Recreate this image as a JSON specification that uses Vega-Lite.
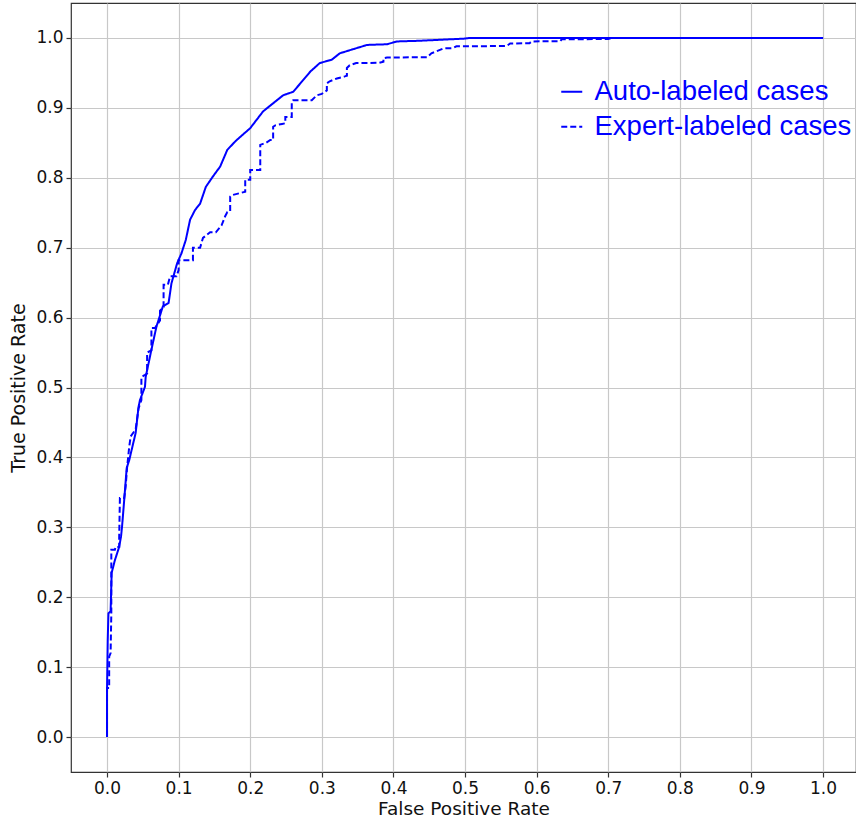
{
  "$schema": "https://vega.github.io/schema/vega-lite/v6.json",
  "width": 785,
  "height": 769,
  "autosize": {"type": "none"},
  "padding": {"left": 71, "top": 3, "right": 0, "bottom": 48},
  "background": "white",
  "config": {
    "view": {"stroke": "#333333", "strokeWidth": 1.2},
    "axis": {
      "domain": false,
      "grid": true,
      "gridColor": "#c8c8c8",
      "gridWidth": 1.2,
      "tickColor": "#333333",
      "tickSize": 5,
      "tickWidth": 1.2,
      "labelColor": "#111111",
      "titleColor": "#111111",
      "titleFontWeight": "normal"
    }
  },
  "data": {
    "values": [
      {"series": "Auto-labeled cases", "fpr": 0, "tpr": 0},
      {"series": "Auto-labeled cases", "fpr": 0, "tpr": 0.067},
      {"series": "Auto-labeled cases", "fpr": 0.001, "tpr": 0.139},
      {"series": "Auto-labeled cases", "fpr": 0.002, "tpr": 0.177},
      {"series": "Auto-labeled cases", "fpr": 0.005, "tpr": 0.18},
      {"series": "Auto-labeled cases", "fpr": 0.0065, "tpr": 0.235},
      {"series": "Auto-labeled cases", "fpr": 0.011, "tpr": 0.253},
      {"series": "Auto-labeled cases", "fpr": 0.017, "tpr": 0.272},
      {"series": "Auto-labeled cases", "fpr": 0.0196, "tpr": 0.287},
      {"series": "Auto-labeled cases", "fpr": 0.021, "tpr": 0.301},
      {"series": "Auto-labeled cases", "fpr": 0.024, "tpr": 0.339},
      {"series": "Auto-labeled cases", "fpr": 0.0275, "tpr": 0.385},
      {"series": "Auto-labeled cases", "fpr": 0.031, "tpr": 0.396},
      {"series": "Auto-labeled cases", "fpr": 0.04, "tpr": 0.435},
      {"series": "Auto-labeled cases", "fpr": 0.044, "tpr": 0.472},
      {"series": "Auto-labeled cases", "fpr": 0.046, "tpr": 0.482},
      {"series": "Auto-labeled cases", "fpr": 0.053, "tpr": 0.501},
      {"series": "Auto-labeled cases", "fpr": 0.054, "tpr": 0.515},
      {"series": "Auto-labeled cases", "fpr": 0.062, "tpr": 0.554},
      {"series": "Auto-labeled cases", "fpr": 0.069, "tpr": 0.587},
      {"series": "Auto-labeled cases", "fpr": 0.078, "tpr": 0.616},
      {"series": "Auto-labeled cases", "fpr": 0.086, "tpr": 0.621},
      {"series": "Auto-labeled cases", "fpr": 0.09, "tpr": 0.649},
      {"series": "Auto-labeled cases", "fpr": 0.098, "tpr": 0.678},
      {"series": "Auto-labeled cases", "fpr": 0.104, "tpr": 0.692},
      {"series": "Auto-labeled cases", "fpr": 0.11, "tpr": 0.711},
      {"series": "Auto-labeled cases", "fpr": 0.116, "tpr": 0.74},
      {"series": "Auto-labeled cases", "fpr": 0.123, "tpr": 0.754},
      {"series": "Auto-labeled cases", "fpr": 0.13, "tpr": 0.763},
      {"series": "Auto-labeled cases", "fpr": 0.138, "tpr": 0.787},
      {"series": "Auto-labeled cases", "fpr": 0.148, "tpr": 0.802},
      {"series": "Auto-labeled cases", "fpr": 0.158, "tpr": 0.816},
      {"series": "Auto-labeled cases", "fpr": 0.168, "tpr": 0.84},
      {"series": "Auto-labeled cases", "fpr": 0.18, "tpr": 0.853},
      {"series": "Auto-labeled cases", "fpr": 0.19, "tpr": 0.862},
      {"series": "Auto-labeled cases", "fpr": 0.2, "tpr": 0.871},
      {"series": "Auto-labeled cases", "fpr": 0.218, "tpr": 0.895},
      {"series": "Auto-labeled cases", "fpr": 0.235, "tpr": 0.909},
      {"series": "Auto-labeled cases", "fpr": 0.246, "tpr": 0.918},
      {"series": "Auto-labeled cases", "fpr": 0.26, "tpr": 0.923},
      {"series": "Auto-labeled cases", "fpr": 0.27, "tpr": 0.935},
      {"series": "Auto-labeled cases", "fpr": 0.284, "tpr": 0.952},
      {"series": "Auto-labeled cases", "fpr": 0.297, "tpr": 0.964},
      {"series": "Auto-labeled cases", "fpr": 0.314, "tpr": 0.969},
      {"series": "Auto-labeled cases", "fpr": 0.325, "tpr": 0.978},
      {"series": "Auto-labeled cases", "fpr": 0.344, "tpr": 0.984},
      {"series": "Auto-labeled cases", "fpr": 0.363, "tpr": 0.99},
      {"series": "Auto-labeled cases", "fpr": 0.391, "tpr": 0.991},
      {"series": "Auto-labeled cases", "fpr": 0.405, "tpr": 0.995},
      {"series": "Auto-labeled cases", "fpr": 0.437, "tpr": 0.996},
      {"series": "Auto-labeled cases", "fpr": 0.498, "tpr": 0.999},
      {"series": "Auto-labeled cases", "fpr": 0.507, "tpr": 1.0},
      {"series": "Auto-labeled cases", "fpr": 1.0, "tpr": 1.0},

      {"series": "Expert-labeled cases", "fpr": 0, "tpr": 0},
      {"series": "Expert-labeled cases", "fpr": 0, "tpr": 0.07},
      {"series": "Expert-labeled cases", "fpr": 0.003, "tpr": 0.07},
      {"series": "Expert-labeled cases", "fpr": 0.003, "tpr": 0.115},
      {"series": "Expert-labeled cases", "fpr": 0.005, "tpr": 0.12},
      {"series": "Expert-labeled cases", "fpr": 0.006, "tpr": 0.177},
      {"series": "Expert-labeled cases", "fpr": 0.006, "tpr": 0.268},
      {"series": "Expert-labeled cases", "fpr": 0.011, "tpr": 0.268},
      {"series": "Expert-labeled cases", "fpr": 0.012, "tpr": 0.272},
      {"series": "Expert-labeled cases", "fpr": 0.017, "tpr": 0.272},
      {"series": "Expert-labeled cases", "fpr": 0.017, "tpr": 0.286},
      {"series": "Expert-labeled cases", "fpr": 0.018, "tpr": 0.342},
      {"series": "Expert-labeled cases", "fpr": 0.024, "tpr": 0.342},
      {"series": "Expert-labeled cases", "fpr": 0.026, "tpr": 0.358},
      {"series": "Expert-labeled cases", "fpr": 0.028, "tpr": 0.385},
      {"series": "Expert-labeled cases", "fpr": 0.031, "tpr": 0.415},
      {"series": "Expert-labeled cases", "fpr": 0.033, "tpr": 0.43},
      {"series": "Expert-labeled cases", "fpr": 0.04, "tpr": 0.44},
      {"series": "Expert-labeled cases", "fpr": 0.044, "tpr": 0.47},
      {"series": "Expert-labeled cases", "fpr": 0.048, "tpr": 0.482},
      {"series": "Expert-labeled cases", "fpr": 0.048, "tpr": 0.515},
      {"series": "Expert-labeled cases", "fpr": 0.053, "tpr": 0.518},
      {"series": "Expert-labeled cases", "fpr": 0.056, "tpr": 0.52},
      {"series": "Expert-labeled cases", "fpr": 0.056, "tpr": 0.55},
      {"series": "Expert-labeled cases", "fpr": 0.062, "tpr": 0.553},
      {"series": "Expert-labeled cases", "fpr": 0.062, "tpr": 0.585},
      {"series": "Expert-labeled cases", "fpr": 0.067, "tpr": 0.585},
      {"series": "Expert-labeled cases", "fpr": 0.074, "tpr": 0.596},
      {"series": "Expert-labeled cases", "fpr": 0.074, "tpr": 0.61},
      {"series": "Expert-labeled cases", "fpr": 0.079, "tpr": 0.615},
      {"series": "Expert-labeled cases", "fpr": 0.079, "tpr": 0.647},
      {"series": "Expert-labeled cases", "fpr": 0.085, "tpr": 0.647},
      {"series": "Expert-labeled cases", "fpr": 0.088, "tpr": 0.659},
      {"series": "Expert-labeled cases", "fpr": 0.097, "tpr": 0.659},
      {"series": "Expert-labeled cases", "fpr": 0.1, "tpr": 0.668},
      {"series": "Expert-labeled cases", "fpr": 0.1, "tpr": 0.682},
      {"series": "Expert-labeled cases", "fpr": 0.12, "tpr": 0.682},
      {"series": "Expert-labeled cases", "fpr": 0.12, "tpr": 0.7},
      {"series": "Expert-labeled cases", "fpr": 0.13, "tpr": 0.7},
      {"series": "Expert-labeled cases", "fpr": 0.134, "tpr": 0.714},
      {"series": "Expert-labeled cases", "fpr": 0.144, "tpr": 0.722},
      {"series": "Expert-labeled cases", "fpr": 0.152, "tpr": 0.722},
      {"series": "Expert-labeled cases", "fpr": 0.16, "tpr": 0.732},
      {"series": "Expert-labeled cases", "fpr": 0.165, "tpr": 0.745},
      {"series": "Expert-labeled cases", "fpr": 0.168, "tpr": 0.751},
      {"series": "Expert-labeled cases", "fpr": 0.172, "tpr": 0.752},
      {"series": "Expert-labeled cases", "fpr": 0.172, "tpr": 0.773},
      {"series": "Expert-labeled cases", "fpr": 0.174, "tpr": 0.775},
      {"series": "Expert-labeled cases", "fpr": 0.193, "tpr": 0.78},
      {"series": "Expert-labeled cases", "fpr": 0.193, "tpr": 0.797},
      {"series": "Expert-labeled cases", "fpr": 0.2, "tpr": 0.797},
      {"series": "Expert-labeled cases", "fpr": 0.2, "tpr": 0.811},
      {"series": "Expert-labeled cases", "fpr": 0.214, "tpr": 0.811},
      {"series": "Expert-labeled cases", "fpr": 0.214, "tpr": 0.847},
      {"series": "Expert-labeled cases", "fpr": 0.222, "tpr": 0.85},
      {"series": "Expert-labeled cases", "fpr": 0.228, "tpr": 0.854},
      {"series": "Expert-labeled cases", "fpr": 0.232, "tpr": 0.854},
      {"series": "Expert-labeled cases", "fpr": 0.232, "tpr": 0.873},
      {"series": "Expert-labeled cases", "fpr": 0.235, "tpr": 0.875},
      {"series": "Expert-labeled cases", "fpr": 0.2445, "tpr": 0.877},
      {"series": "Expert-labeled cases", "fpr": 0.249, "tpr": 0.878},
      {"series": "Expert-labeled cases", "fpr": 0.249, "tpr": 0.887},
      {"series": "Expert-labeled cases", "fpr": 0.258, "tpr": 0.887},
      {"series": "Expert-labeled cases", "fpr": 0.258, "tpr": 0.909},
      {"series": "Expert-labeled cases", "fpr": 0.26, "tpr": 0.911},
      {"series": "Expert-labeled cases", "fpr": 0.286, "tpr": 0.911},
      {"series": "Expert-labeled cases", "fpr": 0.293, "tpr": 0.918},
      {"series": "Expert-labeled cases", "fpr": 0.3, "tpr": 0.92},
      {"series": "Expert-labeled cases", "fpr": 0.307, "tpr": 0.925},
      {"series": "Expert-labeled cases", "fpr": 0.307, "tpr": 0.935},
      {"series": "Expert-labeled cases", "fpr": 0.311, "tpr": 0.938},
      {"series": "Expert-labeled cases", "fpr": 0.321, "tpr": 0.942},
      {"series": "Expert-labeled cases", "fpr": 0.332, "tpr": 0.945},
      {"series": "Expert-labeled cases", "fpr": 0.335, "tpr": 0.946},
      {"series": "Expert-labeled cases", "fpr": 0.335, "tpr": 0.957},
      {"series": "Expert-labeled cases", "fpr": 0.339, "tpr": 0.961},
      {"series": "Expert-labeled cases", "fpr": 0.348, "tpr": 0.964},
      {"series": "Expert-labeled cases", "fpr": 0.38, "tpr": 0.9645},
      {"series": "Expert-labeled cases", "fpr": 0.386, "tpr": 0.966},
      {"series": "Expert-labeled cases", "fpr": 0.386, "tpr": 0.971},
      {"series": "Expert-labeled cases", "fpr": 0.391, "tpr": 0.972},
      {"series": "Expert-labeled cases", "fpr": 0.447, "tpr": 0.9725},
      {"series": "Expert-labeled cases", "fpr": 0.453, "tpr": 0.978},
      {"series": "Expert-labeled cases", "fpr": 0.465, "tpr": 0.983},
      {"series": "Expert-labeled cases", "fpr": 0.47, "tpr": 0.985},
      {"series": "Expert-labeled cases", "fpr": 0.483, "tpr": 0.9855},
      {"series": "Expert-labeled cases", "fpr": 0.488, "tpr": 0.988},
      {"series": "Expert-labeled cases", "fpr": 0.558, "tpr": 0.9885},
      {"series": "Expert-labeled cases", "fpr": 0.563, "tpr": 0.992},
      {"series": "Expert-labeled cases", "fpr": 0.59, "tpr": 0.9925},
      {"series": "Expert-labeled cases", "fpr": 0.593, "tpr": 0.995},
      {"series": "Expert-labeled cases", "fpr": 0.633, "tpr": 0.9955},
      {"series": "Expert-labeled cases", "fpr": 0.635, "tpr": 0.998},
      {"series": "Expert-labeled cases", "fpr": 0.7, "tpr": 0.9985},
      {"series": "Expert-labeled cases", "fpr": 0.705, "tpr": 1.0},
      {"series": "Expert-labeled cases", "fpr": 1.0, "tpr": 1.0}
    ]
  },
  "mark": {"type": "line", "color": "blue", "strokeWidth": 2, "clip": true},
  "encoding": {
    "x": {
      "field": "fpr",
      "type": "quantitative",
      "scale": {"domain": [-0.0503, 1.046], "nice": false, "zero": false},
      "axis": {
        "values": [0, 0.1, 0.2, 0.3, 0.4, 0.5, 0.6, 0.7, 0.8, 0.9, 1.0],
        "format": ".1f",
        "title": "False Positive Rate",
        "labelFont": "DejaVu Sans",
        "labelFontSize": 17,
        "labelPadding": 3,
        "titleFont": "DejaVu Sans",
        "titleFontSize": 18.5,
        "titlePadding": 3
      }
    },
    "y": {
      "field": "tpr",
      "type": "quantitative",
      "scale": {"domain": [-0.05, 1.05], "nice": false, "zero": false},
      "axis": {
        "values": [0, 0.1, 0.2, 0.3, 0.4, 0.5, 0.6, 0.7, 0.8, 0.9, 1.0],
        "format": ".1f",
        "title": "True Positive Rate",
        "labelFont": "DejaVu Sans",
        "labelFontSize": 17,
        "labelPadding": 3,
        "titleFont": "DejaVu Sans",
        "titleFontSize": 19,
        "titlePadding": 7
      }
    },
    "strokeDash": {
      "field": "series",
      "type": "nominal",
      "scale": {
        "domain": ["Auto-labeled cases", "Expert-labeled cases"],
        "range": [[1, 0], [6, 3]]
      },
      "legend": {
        "orient": "none",
        "legendX": 487,
        "legendY": 75,
        "title": null,
        "symbolType": "stroke",
        "symbolSize": 441,
        "symbolStrokeWidth": 2,
        "symbolStrokeColor": "blue",
        "labelFont": "Liberation Sans",
        "labelFontSize": 27.5,
        "labelColor": "blue",
        "labelOffset": 9,
        "labelLimit": 400,
        "rowPadding": 6,
        "padding": 0
      }
    },
    "order": [{"field": "fpr", "type": "quantitative"}, {"field": "tpr", "type": "quantitative"}]
  }
}
